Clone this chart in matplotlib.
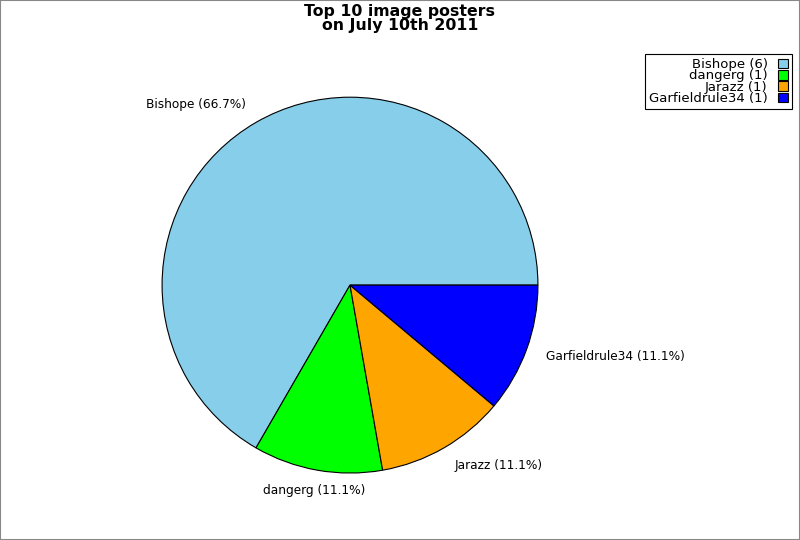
import matplotlib.pyplot as plt
from matplotlib.patches import Rectangle

# data
nomes = ["Bishope", "dangerg", "Jarazz", "Garfieldrule34"]
contagens = [6, 1, 1, 1]
cores = ["#87ceeb", "#00ff00", "#ffa500", "#0000ff"]

total = sum(contagens)
rotulos = ["%s (%.1f%%)" % (n, 100.0 * c / total) for n, c in zip(nomes, contagens)]
legenda = ["%s (%d)" % (n, c) for n, c in zip(nomes, contagens)]

fig = plt.figure(figsize=(8, 5.4), dpi=100)
ax = fig.add_axes([0.2025, 0.124, 0.47, 0.696])

patches, texts = ax.pie(contagens, colors=cores, startangle=0, counterclock=True,
                        labels=rotulos, labeldistance=1.11,
                        wedgeprops={"edgecolor": "black", "linewidth": 0.8},
                        textprops={"fontsize": 8.7})
ax.set_xlim(-1, 1)
ax.set_ylim(-1, 1)
ax.set_aspect("equal")

# alinhamento dos rotulos como no original
alinhamentos = ["right", "center", "left", "left"]
for t, a in zip(texts, alinhamentos):
    t.set_ha(a)
    t.set_va("center")

fig.suptitle("Top 10 image posters\non July 10th 2011", fontsize=11.3,
             fontweight="bold", y=0.993, linespacing=0.9)

leg = fig.legend(patches, legenda, loc="upper right", bbox_to_anchor=(0.99, 0.9),
                 markerfirst=False, fontsize=9.5, labelspacing=-0.12, handlelength=0.75,
                 handleheight=0.75, handletextpad=0.8, borderpad=0.3,
                 fancybox=False, framealpha=1, borderaxespad=0)
leg.get_frame().set_edgecolor("black")
leg.get_frame().set_linewidth(0.8)
for t in leg.get_texts():
    t.set_ha("right")

fig.patches.append(Rectangle((0, 0), 1, 1, transform=fig.transFigure, fill=False,
                             edgecolor="#888888", linewidth=1.5))

fig.savefig("out.png", dpi=100)
